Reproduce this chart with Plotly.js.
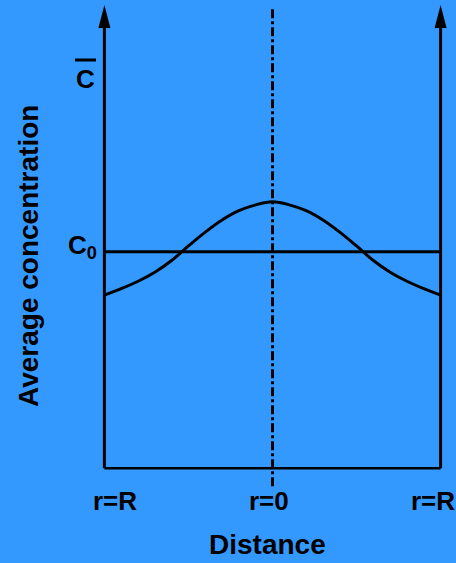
<!DOCTYPE html>
<html>
<head>
<meta charset="utf-8">
<script src="https://cdn.plot.ly/plotly-3.0.1.min.js"></script>
<style>
  html, body { margin: 0; padding: 0; background: #3399ff; }
  #chart { width: 456px; height: 563px; }
</style>
</head>
<body>
<div id="chart"></div>
<script>
// Radial position across the section, r/R from one wall (-1) through the centre (0) to the other wall (1)
const rPos = [-1, -0.9, -0.8, -0.7, -0.6, -0.5, -0.4, -0.3, -0.2, -0.1, 0,
              0.1, 0.2, 0.3, 0.4, 0.5, 0.6, 0.7, 0.8, 0.9, 1];
// Average concentration, relative to the initial level C0
const avgConc = [0.80, 0.83, 0.864, 0.906, 0.96, 1.027, 1.091, 1.147, 1.19, 1.217, 1.231,
                 1.217, 1.19, 1.147, 1.091, 1.027, 0.96, 0.906, 0.864, 0.83, 0.80];
// Initial concentration level
const c0Level = 1;
const c0Span = [-1, 1];
// Distance tick labels
const tickPos = [-1, 0, 1];
const tickText = ['r=R', 'r=0', 'r=R'];
const tickShift = [11, -4, -8];

const BG = '#3399ff';
const INK = '#000000';
const FONT = 'Arial, "Liberation Sans", Helvetica, sans-serif';

const W = 456, H = 563;
const M = {l: 96, r: 7, t: 0, b: 73};
const plotW = W - M.l - M.r, plotH = H - M.t - M.b;
const paperX = px => (px - M.l) / plotW;
const paperY = py => (plotH + M.t - py) / plotH;

const yTop = 2.14;       // arrow tips
const yArrowBase = 2.035;

const traces = [
  {
    x: c0Span, y: c0Span.map(() => c0Level),
    mode: 'lines', line: {color: INK, width: 3}, hoverinfo: 'skip'
  },
  {
    x: rPos, y: avgConc,
    mode: 'lines', line: {color: INK, width: 3, shape: 'spline', smoothing: 1}, hoverinfo: 'skip'
  }
];

const arrowHead = xAnchor => ({
  type: 'path', xref: 'x', yref: 'y',
  xsizemode: 'pixel', ysizemode: 'pixel',
  xanchor: xAnchor, yanchor: yTop,
  path: 'M0,0 L-6,-23 L6,-23 Z',
  fillcolor: INK, line: {width: 0}
});

const shapes = [
  {type: 'line', xref: 'x', yref: 'y', x0: -1, x1: -1, y0: 0, y1: yArrowBase, line: {color: INK, width: 3}},
  {type: 'line', xref: 'x', yref: 'y', x0: 1, x1: 1, y0: 0, y1: yArrowBase, line: {color: INK, width: 3}},
  {type: 'line', xref: 'x', yref: 'y', x0: -1, x1: 1, y0: 0, y1: 0, line: {color: INK, width: 2.5}},
  {type: 'line', xref: 'x', yref: 'y', x0: 0, x1: 0, y0: -0.083, y1: 2.125,
   line: {color: INK, width: 3, dash: '9px,3px,3px,3px'}},
  arrowHead(-1),
  arrowHead(1),
  // bar over the C of the average-concentration label
  {type: 'rect', xref: 'paper', yref: 'paper',
   x0: paperX(75), x1: paperX(96), y0: paperY(58.5), y1: paperY(61.5),
   fillcolor: INK, line: {width: 0}}
];

const tickFont = {family: FONT, size: 26, color: INK, weight: 'bold'};
const titleFont = {family: FONT, size: 28, color: INK, weight: 'bold'};

const annotations = tickPos.map((p, i) => ({
  x: p, xref: 'x', y: paperY(501), yref: 'paper',
  text: tickText[i], showarrow: false, xanchor: 'center', yanchor: 'middle',
  xshift: tickShift[i], font: tickFont
}));

annotations.push(
  {x: paperX(267), y: paperY(544), xref: 'paper', yref: 'paper', text: 'Distance',
   showarrow: false, xanchor: 'center', yanchor: 'middle', font: titleFont},
  {x: paperX(28), y: paperY(256), xref: 'paper', yref: 'paper', text: 'Average concentration',
   textangle: -90, showarrow: false, xanchor: 'center', yanchor: 'middle', font: titleFont},
  {x: paperX(85), y: paperY(79), xref: 'paper', yref: 'paper', text: 'C',
   showarrow: false, xanchor: 'center', yanchor: 'middle', font: tickFont},
  {x: paperX(82), y: paperY(246), xref: 'paper', yref: 'paper', text: 'C<sub>0</sub>',
   showarrow: false, xanchor: 'center', yanchor: 'middle', font: tickFont}
);

const layout = {
  width: W, height: H,
  margin: M,
  paper_bgcolor: BG, plot_bgcolor: BG,
  showlegend: false,
  xaxis: {range: [-1.05, 1.05], showgrid: false, zeroline: false, showticklabels: false, showline: false, ticks: ''},
  yaxis: {range: [-0.1, 2.163], showgrid: false, zeroline: false, showticklabels: false, showline: false, ticks: ''},
  shapes: shapes,
  annotations: annotations
};

Plotly.newPlot('chart', traces, layout, {staticPlot: true, displayModeBar: false});
</script>
</body>
</html>
